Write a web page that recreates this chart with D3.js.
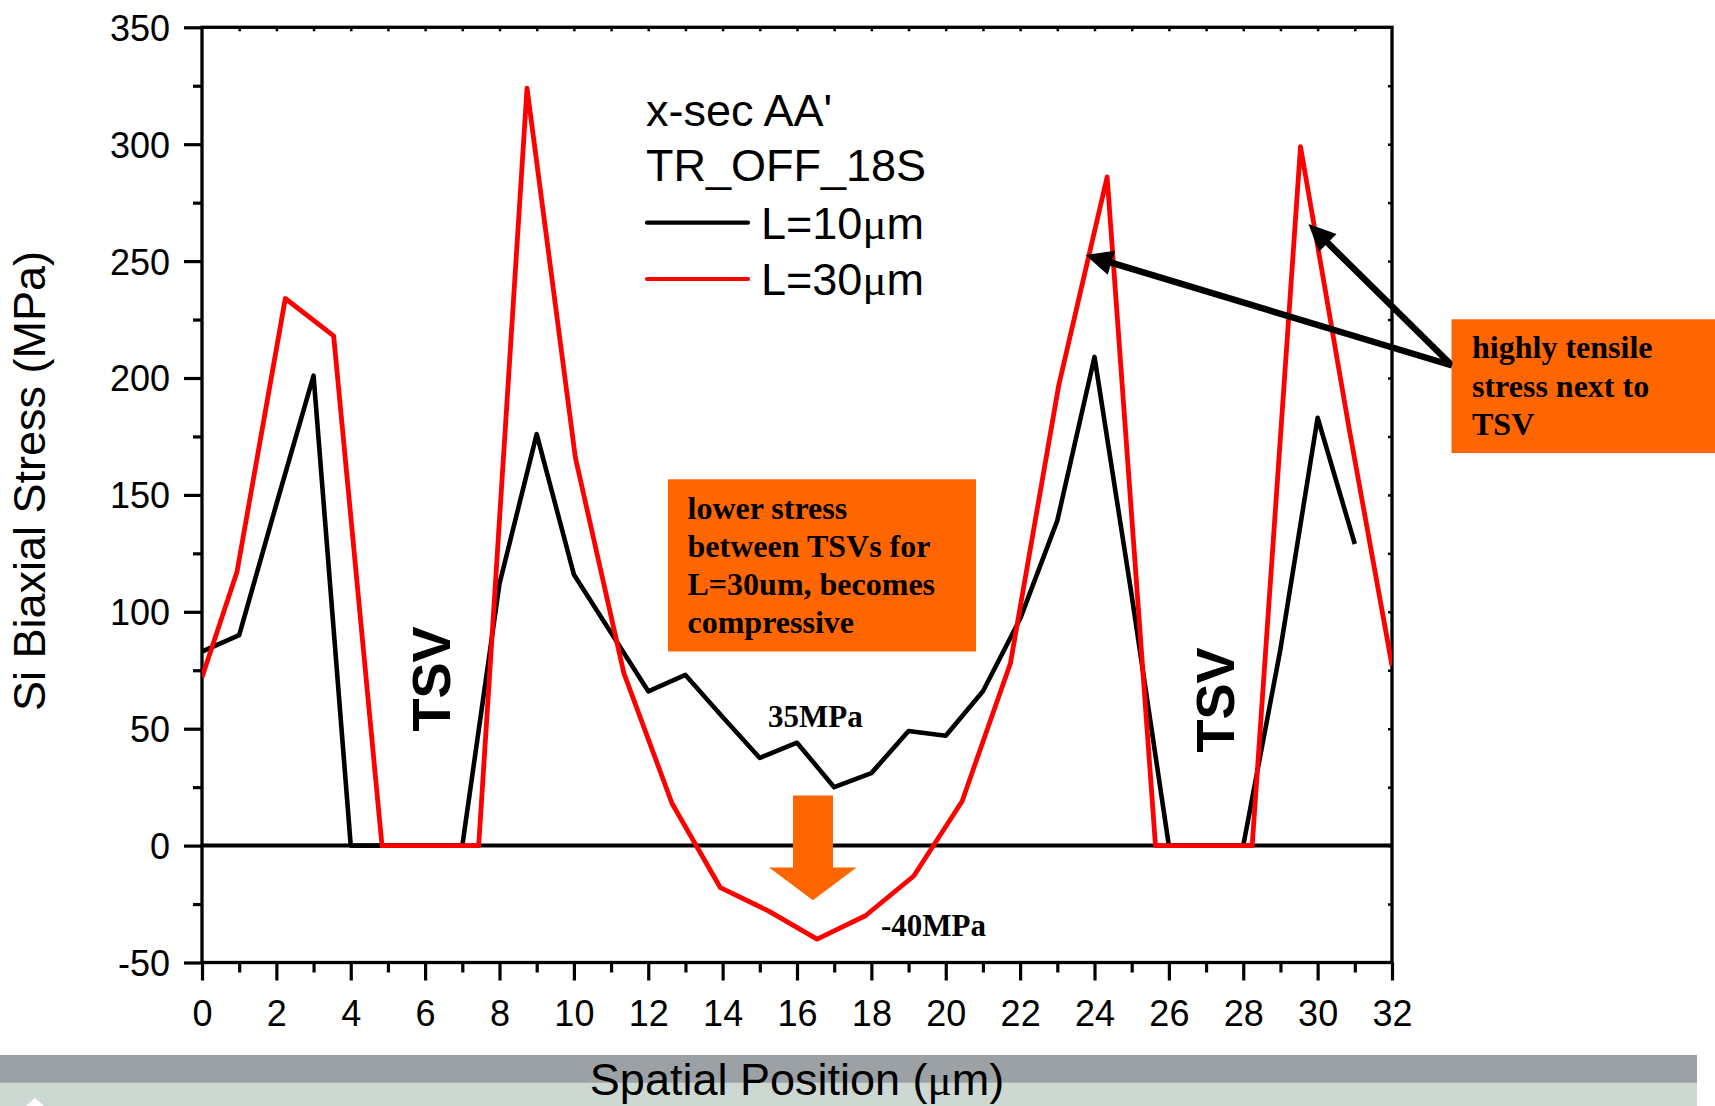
<!DOCTYPE html>
<html>
<head>
<meta charset="utf-8">
<script src="https://cdn.jsdelivr.net/npm/d3@7"></script>
<style>
  html, body { margin: 0; padding: 0; background: #ffffff; }
  svg { display: block; }
</style>
</head>
<body>
<script>
// Si biaxial stress along cross-section AA' (TR_OFF_18S), two TSV pitches
const positionsL10 = [0, 1, 2, 3, 4, 5, 6, 7, 8, 9, 10, 11, 12, 13, 14, 15,
                      16, 17, 18, 19, 20, 21, 22, 23, 24, 25, 26, 27, 28, 29, 30, 31];
const stressL10 = [83, 90, 146, 201, 0, 0, 0, 0, 112, 176, 116, 91, 66, 73, 55, 37.5,
                   44, 25, 31, 49, 47, 66, 97, 139, 209, 107, 0, 0, 0, 84, 183, 129];

const positionsL30 = [0, 0.94, 2.24, 3.54, 4.84, 6.14, 7.44, 8.74, 10.04, 11.34, 12.64,
                      13.94, 15.24, 16.54, 17.84, 19.14, 20.44, 21.74, 23.04, 24.34,
                      25.64, 26.94, 28.24, 29.54, 30.84, 32];
const stressL30 = [72, 117, 234, 218, 0, 0, 0, 324, 166, 74, 18,
                   -18, -28, -40, -30, -13, 19, 78, 197, 286,
                   0, 0, 0, 299, 179, 77];

const seriesNames = ["L=10", "L=30"];
const seriesColors = ["#000000", "#ff0000"];

const xMajorTicks = [0, 2, 4, 6, 8, 10, 12, 14, 16, 18, 20, 22, 24, 26, 28, 30, 32];
const xMinorTicks = [1, 3, 5, 7, 9, 11, 13, 15, 17, 19, 21, 23, 25, 27, 29, 31];
const yMajorTicks = [-50, 0, 50, 100, 150, 200, 250, 300, 350];
const yMinorTicks = [-25, 25, 75, 125, 175, 225, 275, 325];

const W = 1715, H = 1106;
const plot = { left: 202, right: 1392, top: 27.3, bottom: 962.5 };
const SANS = "'Liberation Sans', Arial, sans-serif";
const SERIF = "'Liberation Serif', 'Times New Roman', serif";
const ORANGE = "#ff6600";
const plain = d => String(d);   // hyphen-minus for negatives

const svg = d3.select("body").append("svg")
  .attr("width", W).attr("height", H)
  .attr("viewBox", `0 0 ${W} ${H}`);

const x = d3.scaleLinear().domain([0, 32]).range([plot.left, plot.right]);
const y = d3.scaleLinear().domain([-50, 350]).range([plot.bottom, plot.top]);

svg.append("rect").attr("width", W).attr("height", H).attr("fill", "#fff");

// slide footer band behind the x-axis title
svg.append("rect").attr("x", 0).attr("y", 1055).attr("width", 1697).attr("height", 28).attr("fill", "#9ba1a4");
svg.append("rect").attr("x", 0).attr("y", 1082.7).attr("width", 1697).attr("height", 24).attr("fill", "#ced8d3");
svg.append("path").attr("d", "M26,1106 L35,1098 L44,1106 Z").attr("fill", "#ffffff");

// clip for the data lines
svg.append("clipPath").attr("id", "plotClip")
  .append("rect")
  .attr("x", plot.left).attr("y", plot.top)
  .attr("width", plot.right - plot.left).attr("height", plot.bottom - plot.top);

// bottom axis: major + minor ticks
const gx = svg.append("g").attr("transform", `translate(0,${plot.bottom})`)
  .call(d3.axisBottom(x).tickValues(xMajorTicks).tickSize(18).tickSizeOuter(0).tickFormat(plain));
gx.append("g").call(d3.axisBottom(x).tickValues(xMinorTicks).tickSize(10).tickSizeOuter(0).tickFormat(""));
gx.selectAll(".domain").remove();
gx.selectAll("line").attr("stroke", "#000").attr("stroke-width", 3.2);
gx.selectAll("text")
  .attr("y", 63).attr("dy", 0)
  .attr("fill", "#000")
  .style("font-family", SANS).style("font-size", "36px");

// left axis: major + minor ticks
const gy = svg.append("g").attr("transform", `translate(${plot.left},0)`)
  .call(d3.axisLeft(y).tickValues(yMajorTicks).tickSize(18).tickSizeOuter(0).tickFormat(plain));
gy.append("g").call(d3.axisLeft(y).tickValues(yMinorTicks).tickSize(9).tickSizeOuter(0).tickFormat(""));
gy.selectAll(".domain").remove();
gy.selectAll("line").attr("stroke", "#000").attr("stroke-width", 3.2);
gy.selectAll("text")
  .attr("x", -32).attr("dy", "0.36em")
  .attr("fill", "#000")
  .style("font-family", SANS).style("font-size", "36px");

// small inward ticks on the top and right edges
const gTop = svg.append("g").attr("transform", `translate(0,${plot.top})`)
  .call(d3.axisBottom(x).tickValues(d3.range(1, 32)).tickSize(4).tickSizeOuter(0).tickFormat(""));
gTop.selectAll(".domain").remove();
gTop.selectAll("line").attr("stroke", "#000").attr("stroke-width", 2.5);
const gRight = svg.append("g").attr("transform", `translate(${plot.right},0)`)
  .call(d3.axisLeft(y).tickValues(d3.range(-25, 350, 25)).tickSize(4).tickSizeOuter(0).tickFormat(""));
gRight.selectAll(".domain").remove();
gRight.selectAll("line").attr("stroke", "#000").attr("stroke-width", 2.5);

// zero-stress reference line
svg.append("line")
  .attr("x1", x(0)).attr("x2", x(32))
  .attr("y1", y(0)).attr("y2", y(0))
  .attr("stroke", "#000").attr("stroke-width", 4);

// plot frame
svg.append("rect")
  .attr("x", plot.left).attr("y", plot.top)
  .attr("width", plot.right - plot.left).attr("height", plot.bottom - plot.top)
  .attr("fill", "none").attr("stroke", "#000").attr("stroke-width", 3.3);

// stress profiles
const line = d3.line().x(d => x(d[0])).y(d => y(d[1]));
const seriesData = [
  d3.zip(positionsL10, stressL10),
  d3.zip(positionsL30, stressL30)
];
const lineWidths = [4.6, 4.8];
svg.append("g").attr("clip-path", "url(#plotClip)")
  .selectAll("path").data(seriesData).join("path")
  .attr("d", line)
  .attr("fill", "none")
  .attr("stroke", (d, i) => seriesColors[i])
  .attr("stroke-width", (d, i) => lineWidths[i])
  .attr("stroke-linejoin", "round")
  .attr("stroke-linecap", "butt");

// axis titles
svg.append("text")
  .attr("transform", "translate(45,481) rotate(-90)")
  .attr("text-anchor", "middle")
  .style("font-family", SANS).style("font-size", "45px").attr("fill", "#000")
  .text("Si Biaxial Stress (MPa)");

const xt = svg.append("text")
  .attr("x", 797).attr("y", 1095)
  .attr("text-anchor", "middle")
  .style("font-family", SANS).style("font-size", "45px").attr("fill", "#000");
xt.append("tspan").text("Spatial Position (");
xt.append("tspan").style("font-family", SERIF).text("μ");
xt.append("tspan").text("m)");

// legend
const legend = svg.append("g").style("font-family", SANS).style("font-size", "45px").attr("fill", "#000");
legend.append("text").attr("x", 646).attr("y", 126).text("x-sec AA'");
legend.append("text").attr("x", 646).attr("y", 181).text("TR_OFF_18S");
seriesNames.forEach((name, i) => {
  const ly = 222.7 + i * 56.3;
  legend.append("line")
    .attr("x1", 647).attr("x2", 748).attr("y1", ly).attr("y2", ly)
    .attr("stroke", seriesColors[i]).attr("stroke-width", 4.2).attr("stroke-linecap", "round");
  const t = legend.append("text").attr("x", 761).attr("y", ly + 15.8);
  t.append("tspan").text(name);
  t.append("tspan").style("font-family", SERIF).text("μ");
  t.append("tspan").text("m");
});

// TSV region labels
[[450, 679], [1234, 700]].forEach(([bx, cy]) => {
  svg.append("text")
    .attr("transform", `translate(${bx},${cy}) rotate(-90)`)
    .attr("text-anchor", "middle")
    .style("font-family", SANS).style("font-weight", "bold").style("font-size", "54px")
    .attr("fill", "#000")
    .text("TSV");
});

// value callouts
const callout = (tx, ty, s) => svg.append("text")
  .attr("x", tx).attr("y", ty)
  .style("font-family", SERIF).style("font-weight", "bold").style("font-size", "31px")
  .attr("fill", "#000").text(s);
callout(768, 726.6, "35MPa");
callout(881, 935.5, "-40MPa");

// orange down arrow between the curves
svg.append("path")
  .attr("d", "M793,795.6 L833,795.6 L833,867.6 L856.6,867.6 L812.9,900.2 L769.1,867.6 L793,867.6 Z")
  .attr("fill", ORANGE);

// note boxes
function noteBox(bx, by, bw, bh, lines, tx, ty0, lh) {
  svg.append("rect").attr("x", bx).attr("y", by).attr("width", bw).attr("height", bh).attr("fill", ORANGE);
  const t = svg.append("text")
    .style("font-family", SERIF).style("font-weight", "bold").style("font-size", "32px")
    .attr("fill", "#000");
  lines.forEach((s, i) => t.append("tspan").attr("x", tx).attr("y", ty0 + i * lh).text(s));
}
noteBox(668, 479.3, 308, 172.2,
  ["lower stress", "between TSVs for", "L=30um, becomes", "compressive"],
  687.5, 518.7, 38);
noteBox(1451.5, 319.3, 263.5, 133.7,
  ["highly tensile", "stress next to", "TSV"],
  1472, 358.3, 38.3);

// black pointer arrows toward the peak regions
function pointer(x0, y0, x1, y1) {
  const dx = x1 - x0, dy = y1 - y0, len = Math.hypot(dx, dy);
  const ux = dx / len, uy = dy / len;
  const headL = 27, headW = 12.5;
  const bxp = x1 - ux * headL, byp = y1 - uy * headL;
  svg.append("line")
    .attr("x1", x0).attr("y1", y0).attr("x2", bxp + ux * 2).attr("y2", byp + uy * 2)
    .attr("stroke", "#000").attr("stroke-width", 6.5);
  svg.append("path")
    .attr("d", `M${x1},${y1} L${bxp - uy * headW},${byp + ux * headW} L${bxp + uy * headW},${byp - ux * headW} Z`)
    .attr("fill", "#000");
}
pointer(1452, 365.5, 1085.5, 255);
pointer(1450, 363.5, 1308.5, 224);
</script>
</body>
</html>
